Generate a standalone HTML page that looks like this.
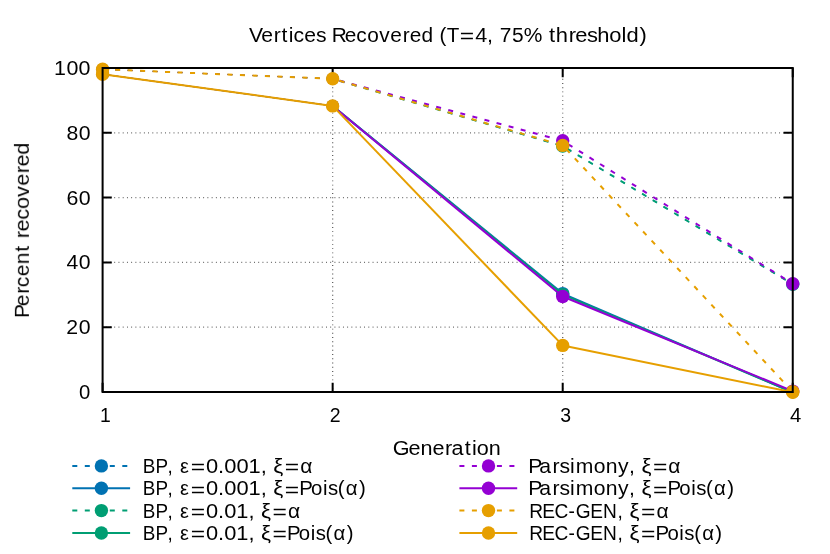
<!DOCTYPE html>
<html lang="en"><head><meta charset="utf-8"><title>Vertices Recovered</title>
<style>html,body{margin:0;padding:0;background:#fff}svg{display:block}text{font-family:"Liberation Sans",sans-serif}</style></head>
<body>
<svg width="830" height="554" viewBox="0 0 830 554">
<rect width="830" height="554" fill="#fff"/>
<g stroke="#000" stroke-opacity="0.62" stroke-width="1.3" stroke-dasharray="0.9 3.335" stroke-dashoffset="1.05" fill="none">
<path d="M102.60 327.20H792.75"/>
<path d="M102.60 262.40H792.75"/>
<path d="M102.60 197.60H792.75"/>
<path d="M102.60 132.80H792.75"/>
<path d="M332.65 392.00V68.00"/>
<path d="M562.70 392.00V68.00"/>
</g>
<g stroke="#000" stroke-width="2" fill="none">
<path d="M102.60 392.00h9.20M792.75 392.00h-9.20"/>
<path d="M102.60 327.20h9.20M792.75 327.20h-9.20"/>
<path d="M102.60 262.40h9.20M792.75 262.40h-9.20"/>
<path d="M102.60 197.60h9.20M792.75 197.60h-9.20"/>
<path d="M102.60 132.80h9.20M792.75 132.80h-9.20"/>
<path d="M102.60 68.00h9.20M792.75 68.00h-9.20"/>
<path d="M102.60 392.00v-9.20M102.60 68.00v9.20"/>
<path d="M332.65 392.00v-9.20M332.65 68.00v9.20"/>
<path d="M562.70 392.00v-9.20M562.70 68.00v9.20"/>
<path d="M792.75 392.00v-9.20M792.75 68.00v9.20"/>
</g>
<path d="M102.60 69.30L332.65 78.80" fill="none" stroke="#0072B2" stroke-width="1" stroke-dasharray="5 7.5" stroke-dashoffset="0.00"/>
<path d="M332.65 78.80L562.70 146.20" fill="none" stroke="#0072B2" stroke-width="1" stroke-dasharray="5 7.5" stroke-dashoffset="5.25"/>
<path d="M562.70 146.20L792.75 284.40" fill="none" stroke="#0072B2" stroke-width="1" stroke-dasharray="5 7.5" stroke-dashoffset="7.47"/>
<circle cx="102.60" cy="69.30" r="6.1" fill="#0072B2"/>
<circle cx="332.65" cy="78.80" r="6.1" fill="#0072B2"/>
<circle cx="562.70" cy="146.20" r="6.1" fill="#0072B2"/>
<circle cx="792.75" cy="284.40" r="6.1" fill="#0072B2"/>
<path d="M102.60 74.20L332.65 105.90" fill="none" stroke="#0072B2" stroke-width="1"/>
<path d="M332.65 105.90L562.70 293.60" fill="none" stroke="#0072B2" stroke-width="2"/>
<path d="M562.70 293.60L792.75 392.30" fill="none" stroke="#0072B2" stroke-width="2"/>
<circle cx="102.60" cy="74.20" r="6.1" fill="#0072B2"/>
<circle cx="332.65" cy="105.90" r="6.1" fill="#0072B2"/>
<circle cx="562.70" cy="293.60" r="6.7" fill="#0072B2"/>
<circle cx="792.75" cy="392.30" r="6.1" fill="#0072B2"/>
<path d="M102.60 69.30L332.65 78.80" fill="none" stroke="#009E73" stroke-width="1" stroke-dasharray="5 7.5" stroke-dashoffset="0.00"/>
<path d="M332.65 78.80L562.70 146.00" fill="none" stroke="#009E73" stroke-width="2" stroke-dasharray="5 7.5" stroke-dashoffset="5.25"/>
<path d="M562.70 146.00L792.75 284.20" fill="none" stroke="#009E73" stroke-width="2" stroke-dasharray="5 7.5" stroke-dashoffset="7.41"/>
<circle cx="102.60" cy="69.30" r="6.1" fill="#009E73"/>
<circle cx="332.65" cy="78.80" r="6.1" fill="#009E73"/>
<circle cx="562.70" cy="146.00" r="6.7" fill="#009E73"/>
<circle cx="792.75" cy="284.20" r="6.7" fill="#009E73"/>
<path d="M102.60 74.20L332.65 105.90" fill="none" stroke="#009E73" stroke-width="1"/>
<path d="M332.65 105.90L562.70 294.60" fill="none" stroke="#009E73" stroke-width="2"/>
<path d="M562.70 294.60L792.75 392.30" fill="none" stroke="#009E73" stroke-width="2"/>
<circle cx="102.60" cy="74.20" r="6.1" fill="#009E73"/>
<circle cx="332.65" cy="105.90" r="6.1" fill="#009E73"/>
<circle cx="562.70" cy="294.60" r="6.7" fill="#009E73"/>
<circle cx="792.75" cy="392.30" r="6.1" fill="#009E73"/>
<path d="M102.60 69.30L332.65 78.80" fill="none" stroke="#9400D3" stroke-width="1" stroke-dasharray="5 7.5" stroke-dashoffset="0.00"/>
<path d="M332.65 78.80L562.70 140.80" fill="none" stroke="#9400D3" stroke-width="2" stroke-dasharray="5 7.5" stroke-dashoffset="5.25"/>
<path d="M562.70 140.80L792.75 283.70" fill="none" stroke="#9400D3" stroke-width="2" stroke-dasharray="5 7.5" stroke-dashoffset="6.00"/>
<circle cx="102.60" cy="69.30" r="6.1" fill="#9400D3"/>
<circle cx="332.65" cy="78.80" r="6.1" fill="#9400D3"/>
<circle cx="562.70" cy="140.80" r="6.7" fill="#9400D3"/>
<circle cx="792.75" cy="283.70" r="6.7" fill="#9400D3"/>
<path d="M102.60 74.20L332.65 105.90" fill="none" stroke="#9400D3" stroke-width="1"/>
<path d="M332.65 105.90L562.70 296.50" fill="none" stroke="#9400D3" stroke-width="2"/>
<path d="M562.70 296.50L792.75 391.10" fill="none" stroke="#9400D3" stroke-width="2"/>
<circle cx="102.60" cy="74.20" r="6.1" fill="#9400D3"/>
<circle cx="332.65" cy="105.90" r="6.1" fill="#9400D3"/>
<circle cx="562.70" cy="296.50" r="6.7" fill="#9400D3"/>
<circle cx="792.75" cy="391.10" r="6.7" fill="#9400D3"/>
<path d="M102.60 69.30L332.65 78.80" fill="none" stroke="#E69F00" stroke-width="2" stroke-dasharray="5 7.5" stroke-dashoffset="0.00"/>
<path d="M332.65 78.80L562.70 145.40" fill="none" stroke="#E69F00" stroke-width="2" stroke-dasharray="5 7.5" stroke-dashoffset="5.25"/>
<path d="M562.70 145.40L792.75 391.80" fill="none" stroke="#E69F00" stroke-width="2" stroke-dasharray="5 7.5" stroke-dashoffset="7.24"/>
<circle cx="102.60" cy="69.30" r="6.7" fill="#E69F00"/>
<circle cx="332.65" cy="78.80" r="6.7" fill="#E69F00"/>
<circle cx="562.70" cy="145.40" r="6.7" fill="#E69F00"/>
<circle cx="792.75" cy="391.80" r="6.7" fill="#E69F00"/>
<path d="M102.60 74.20L332.65 105.90" fill="none" stroke="#E69F00" stroke-width="2"/>
<path d="M332.65 105.90L562.70 345.40" fill="none" stroke="#E69F00" stroke-width="2"/>
<path d="M562.70 345.40L792.75 392.30" fill="none" stroke="#E69F00" stroke-width="2"/>
<circle cx="102.60" cy="74.20" r="6.7" fill="#E69F00"/>
<circle cx="332.65" cy="105.90" r="6.7" fill="#E69F00"/>
<circle cx="562.70" cy="345.40" r="6.7" fill="#E69F00"/>
<circle cx="792.75" cy="392.30" r="6.7" fill="#E69F00"/>
<rect x="102.60" y="68.00" width="690.15" height="324.00" fill="none" stroke="#000" stroke-width="2"/>
<g font-family="Liberation Sans, sans-serif" font-size="20.2" fill="#000" opacity="0.999">
<text transform="scale(1.0475,1)" x="237.68 249.33 261.30 268.84 275.61 280.16 290.55 301.63" y="41.60">Vertices</text>
<text transform="scale(1.0315,1)" x="321.53 334.33 345.48 355.97 367.75 378.46 390.58 397.18 408.68" y="41.60">Recovered</text>
<text transform="scale(1.0169,1)" x="432.17 439.34" y="41.60">(T</text>
<text transform="scale(1.2200,1)" x="376.87" y="42.70">=</text>
<text transform="scale(1.0655,1)" x="445.94 457.17" y="41.60">4,</text>
<text transform="scale(1.0364,1)" x="482.16 493.92 505.35" y="41.60">75%</text>
<text transform="scale(1.0859,1)" x="505.55 511.87 523.67 529.85 540.56 550.09 561.11 572.35 576.97 588.90" y="41.60">threshold)</text>
<text transform="scale(1.0706,1)" x="366.85 381.59 392.80 404.01 415.75 421.67 434.16 440.80 445.40 456.62" y="455.40">Generation</text>
<text transform="scale(1.0030,1)" x="78.71" y="399.10">0</text>
<text transform="scale(1.0537,1)" x="62.81 74.66" y="334.30">20</text>
<text transform="scale(1.0484,1)" x="63.40 75.06" y="269.50">40</text>
<text transform="scale(1.0574,1)" x="62.81 74.38" y="204.70">60</text>
<text transform="scale(1.0516,1)" x="63.18 74.81" y="139.90">80</text>
<text transform="scale(1.0613,1)" x="50.92 62.56 74.08" y="75.10">100</text>
<text transform="scale(0.9580,1)" x="104.41" y="421.90">1</text>
<text transform="scale(0.9668,1)" x="341.20" y="421.90">2</text>
<text transform="scale(0.9632,1)" x="581.59" y="421.90">3</text>
<text transform="scale(1.0031,1)" x="787.56" y="421.90">4</text>
<g transform="translate(28.9,317.2) rotate(-90)"><text transform="scale(1.0319,1)" x="-0.82 10.72 22.84 29.12 39.67 51.30 63.57" y="0.00">Percent</text>
<text transform="scale(1.0649,1)" x="74.31 80.64 91.46 101.60 113.03 123.39 135.19 141.52 152.67" y="0.00">recovered</text></g>
<text transform="scale(0.9325,1)" x="153.03 166.70 179.54" y="473.20">BP,</text>
<text transform="scale(0.9882,1)" x="182.11" y="473.20">ε</text>
<text transform="scale(1.2200,1)" x="156.27" y="474.30">=</text>
<text transform="scale(1.0827,1)" x="190.18 201.46 207.12 218.41 229.59 240.81" y="473.20">0.001,</text>
<text transform="scale(1.1085,1)" x="246.46" y="473.20">ξ</text>
<text transform="scale(1.2200,1)" x="233.37" y="474.30">=</text>
<text transform="scale(1.0431,1)" x="287.74" y="473.20">α</text>
<text transform="scale(0.9325,1)" x="153.03 166.70 179.54" y="495.50">BP,</text>
<text transform="scale(0.9882,1)" x="182.11" y="495.50">ε</text>
<text transform="scale(1.2200,1)" x="156.27" y="496.60">=</text>
<text transform="scale(1.0827,1)" x="190.18 201.46 207.12 218.41 229.59 240.81" y="495.50">0.001,</text>
<text transform="scale(1.1085,1)" x="246.46" y="495.50">ξ</text>
<text transform="scale(1.2200,1)" x="233.37" y="496.60">=</text>
<text transform="scale(1.0102,1)" x="296.23 307.92 319.76 324.68 334.39 342.34 355.37" y="495.50">Pois(α)</text>
<text transform="scale(0.9325,1)" x="153.03 166.70 179.54" y="517.90">BP,</text>
<text transform="scale(0.9882,1)" x="182.11" y="517.90">ε</text>
<text transform="scale(1.2200,1)" x="156.27" y="519.00">=</text>
<text transform="scale(1.0812,1)" x="190.46 201.74 207.42 218.61 229.84" y="517.90">0.01,</text>
<text transform="scale(1.1085,1)" x="235.43" y="517.90">ξ</text>
<text transform="scale(1.2200,1)" x="223.35" y="519.00">=</text>
<text transform="scale(1.0431,1)" x="276.01" y="517.90">α</text>
<text transform="scale(0.9325,1)" x="153.03 166.70 179.54" y="540.30">BP,</text>
<text transform="scale(0.9882,1)" x="182.11" y="540.30">ε</text>
<text transform="scale(1.2200,1)" x="156.27" y="541.40">=</text>
<text transform="scale(1.0812,1)" x="190.46 201.74 207.42 218.61 229.84" y="540.30">0.01,</text>
<text transform="scale(1.1085,1)" x="235.43" y="540.30">ξ</text>
<text transform="scale(1.2200,1)" x="223.35" y="541.40">=</text>
<text transform="scale(1.0102,1)" x="284.12 295.81 307.66 312.57 322.28 330.24 343.27" y="540.30">Pois(α)</text>
<text transform="scale(1.0470,1)" x="504.62 515.07 527.77 534.44 544.45 549.82 567.12 578.59 590.36 600.77" y="473.20">Parsimony,</text>
<text transform="scale(1.1085,1)" x="578.63" y="473.20">ξ</text>
<text transform="scale(1.2200,1)" x="535.16" y="474.30">=</text>
<text transform="scale(1.0431,1)" x="640.72" y="473.20">α</text>
<text transform="scale(1.0470,1)" x="504.62 515.07 527.77 534.44 544.45 549.82 567.12 578.59 590.36 600.77" y="495.50">Parsimony,</text>
<text transform="scale(1.1085,1)" x="578.63" y="495.50">ξ</text>
<text transform="scale(1.2200,1)" x="535.16" y="496.60">=</text>
<text transform="scale(1.0102,1)" x="660.69 672.38 684.22 689.14 698.85 706.80 719.83" y="495.50">Pois(α)</text>
<text transform="scale(0.9478,1)" x="558.52 572.13 585.00 599.78 607.53 622.88 636.35 651.45" y="517.90">REC-GEN,</text>
<text transform="scale(1.1085,1)" x="567.96" y="517.90">ξ</text>
<text transform="scale(1.2200,1)" x="525.47" y="519.00">=</text>
<text transform="scale(1.0431,1)" x="629.39" y="517.90">α</text>
<text transform="scale(0.9478,1)" x="558.52 572.13 585.00 599.78 607.53 622.88 636.35 651.45" y="540.30">REC-GEN,</text>
<text transform="scale(1.1085,1)" x="567.96" y="540.30">ξ</text>
<text transform="scale(1.2200,1)" x="525.47" y="541.40">=</text>
<text transform="scale(1.0102,1)" x="648.98 660.67 672.52 677.43 687.14 695.10 708.13" y="540.30">Pois(α)</text>
</g>
<path d="M72.30 465.90h57.8" stroke="#0072B2" stroke-width="2" fill="none" stroke-dasharray="5 7.5"/><circle cx="101.40" cy="465.90" r="6.7" fill="#0072B2"/>
<path d="M72.30 488.20h57.8" stroke="#0072B2" stroke-width="2" fill="none"/><circle cx="101.40" cy="488.20" r="6.7" fill="#0072B2"/>
<path d="M72.30 510.60h57.8" stroke="#009E73" stroke-width="2" fill="none" stroke-dasharray="5 7.5"/><circle cx="101.40" cy="510.60" r="6.7" fill="#009E73"/>
<path d="M72.30 533.00h57.8" stroke="#009E73" stroke-width="2" fill="none"/><circle cx="101.40" cy="533.00" r="6.7" fill="#009E73"/>
<path d="M459.40 465.90h57.8" stroke="#9400D3" stroke-width="2" fill="none" stroke-dasharray="5 7.5"/><circle cx="488.50" cy="465.90" r="6.7" fill="#9400D3"/>
<path d="M459.40 488.20h57.8" stroke="#9400D3" stroke-width="2" fill="none"/><circle cx="488.50" cy="488.20" r="6.7" fill="#9400D3"/>
<path d="M459.40 510.60h57.8" stroke="#E69F00" stroke-width="2" fill="none" stroke-dasharray="5 7.5"/><circle cx="488.50" cy="510.60" r="6.7" fill="#E69F00"/>
<path d="M459.40 533.00h57.8" stroke="#E69F00" stroke-width="2" fill="none"/><circle cx="488.50" cy="533.00" r="6.7" fill="#E69F00"/>
</svg>
</body></html>
